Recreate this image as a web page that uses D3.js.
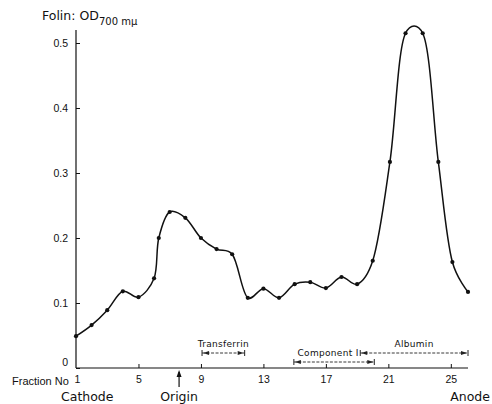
<!DOCTYPE html>
<html><head><meta charset="utf-8">
<script src="https://cdn.jsdelivr.net/npm/d3@7"></script>
<style>
body{margin:0;background:#fff;}
svg{display:block;font-family:"DejaVu Sans",sans-serif;}
</style></head>
<body><svg id="c" width="492" height="404"></svg>
<script>
// Fraction numbers (x) and Folin OD 700 mμ (y)
const fractions = [1,2,3,4,5,6,6.3,7,8,9,10,11,12,13,14,15,16,17,18,19,20,21.1,22.1,23.2,24.2,25.1,26.1];
const folin     = [0.049,0.066,0.089,0.118,0.109,0.138,0.200,0.240,0.231,0.200,0.183,0.175,0.108,0.122,0.108,0.129,0.132,0.123,0.140,0.129,0.165,0.317,0.515,0.515,0.317,0.163,0.117];
const xTicks = [1,5,9,13,17,21,25];
const yTicks = [0,0.1,0.2,0.3,0.4,0.5];
const yTickLabels = ["0","0.1","0.2","0.3","0.4","0.5"];
const bandNames  = ["Transferrin","Component I","Albumin"];
const bandStart  = [9.07,14.95,19.2];
const bandEnd    = [11.8,20.1,26.1];
const originFraction = 7.6;

const svg = d3.select("#c");
const x = d3.scaleLinear().domain([1,26.1]).range([76,468]);
const y = d3.scaleLinear().domain([0,0.5]).range([368,43]);

// Y axis
const gy = svg.append("g").attr("transform","translate(76,0)")
  .call(d3.axisLeft(y).tickValues(yTicks).tickSize(-4).tickPadding(8)
        .tickFormat((d,i)=>yTickLabels[i]));
gy.select(".domain").remove();
gy.selectAll("line").attr("stroke","#111");
gy.selectAll("text").attr("font-size",10.5).attr("fill","#111")
  .attr("dy",(d)=>d===0?"-0.2em":"0.32em");
svg.append("line").attr("x1",76).attr("x2",76).attr("y1",y(0)).attr("y2",y(0.52))
  .attr("stroke","#111").attr("stroke-width",1.2);

// X axis
const gx = svg.append("g").attr("transform","translate(0,"+y(0)+")")
  .call(d3.axisBottom(x).tickValues(xTicks).tickSize(-4).tickPadding(8));
gx.select(".domain").remove();
gx.selectAll("line").attr("stroke","#111").attr("opacity",(d)=>d===1?0:1);
gx.selectAll("text").attr("font-size",10.5).attr("fill","#111")
  .attr("dx",(d)=>d===1?1:0);
svg.append("line").attr("x1",76).attr("x2",468).attr("y1",y(0)).attr("y2",y(0))
  .attr("stroke","#111").attr("stroke-width",1.2);

svg.append("text").attr("x",12).attr("y",385).attr("font-size",11)
  .attr("font-family","'Liberation Sans',Arial,sans-serif")
  .attr("fill","#111").text("Fraction No");

// Title
const t = svg.append("text").attr("x",42).attr("y",20).attr("font-size",12.5).attr("fill","#111");
t.append("tspan").text("Folin: OD");
t.append("tspan").attr("dy",5).attr("font-size",10).text("700 mμ");

// Curve
const pts = fractions.map((f,i)=>[x(f),y(folin[i])]);
svg.append("path").attr("d",d3.line().curve(d3.curveCatmullRom.alpha(0.25))(pts))
  .attr("fill","none").attr("stroke","#111").attr("stroke-width",1.5);
svg.selectAll("circle.p").data(pts).join("circle").attr("class","p")
  .attr("cx",d=>d[0]).attr("cy",d=>d[1]).attr("r",2.1).attr("fill","#111");

// Band brackets
const bandY = [353,362,353];
const labelY = [347,356,347];
bandNames.forEach((n,i)=>{
  const x1=x(bandStart[i]), x2=x(bandEnd[i]), yy=bandY[i];
  const g=svg.append("g").attr("stroke","#222").attr("fill","#222");
  g.append("line").attr("x1",x1).attr("x2",x2).attr("y1",yy).attr("y2",yy)
    .attr("stroke-width",0.9).attr("stroke-dasharray","3,1.5");
  [[x1,1],[x2,-1]].forEach(([xe,s])=>{
    g.append("line").attr("x1",xe).attr("x2",xe).attr("y1",yy-3).attr("y2",yy+3).attr("stroke-width",1);
    g.append("path").attr("stroke","none")
      .attr("d",`M${xe+1*s},${yy} L${xe+7*s},${yy-2} L${xe+7*s},${yy+2} Z`);
  });
  const cx = i===1 ? (x1+x2)/2-6 : (x1+x2)/2;
  svg.append("text").attr("x",cx).attr("y",labelY[i]).attr("text-anchor","middle")
    .attr("font-size",9).attr("fill","#111").attr("letter-spacing",0.3).text(n);
});

// Origin arrow
const ox = x(originFraction);
svg.append("line").attr("x1",ox).attr("x2",ox).attr("y1",387).attr("y2",372).attr("stroke","#111").attr("stroke-width",1.2);
svg.append("path").attr("d",`M${ox},${370} L${ox-2.5},${377} L${ox+2.5},${377} Z`).attr("fill","#111");

svg.append("text").attr("x",ox).attr("y",401).attr("text-anchor","middle").attr("font-size",12.5).attr("fill","#111").text("Origin");
svg.append("text").attr("x",61).attr("y",401).attr("font-size",12.5).attr("fill","#111").text("Cathode");
svg.append("text").attr("x",490).attr("y",401).attr("text-anchor","end").attr("font-size",12.5).attr("fill","#111").text("Anode");
</script></body></html>
